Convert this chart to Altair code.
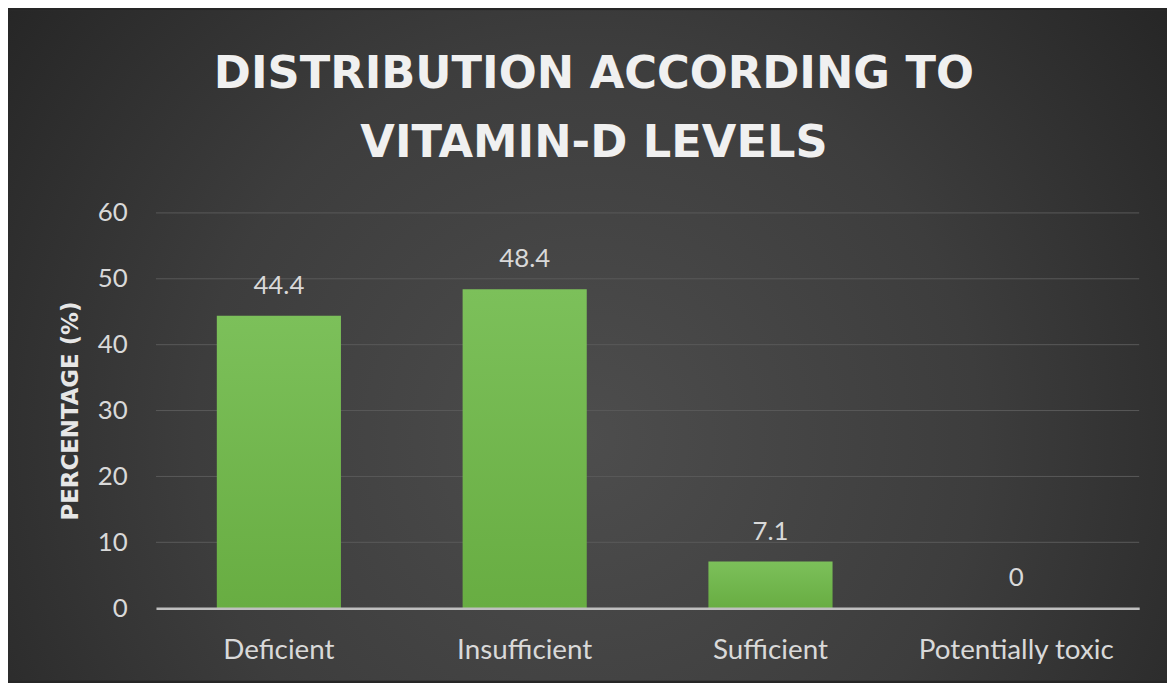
import altair as alt
import pandas as pd

categories = ["Deficient", "Insufficient", "Sufficient", "Potentially toxic"]
percentages = [44.4, 48.4, 7.1, 0]
value_labels = ["44.4", "48.4", "7.1", "0"]
y_ticks = [0, 10, 20, 30, 40, 50, 60]
title_lines = ["DISTRIBUTION ACCORDING TO", "VITAMIN-D LEVELS"]
y_title = "PERCENTAGE (%)"

df = pd.DataFrame({"category": categories, "pct": percentages, "label": value_labels})
grid_df = pd.DataFrame({"tick": y_ticks[1:]})
bg_df = pd.DataFrame({"bg": [0]})

W, H = 990, 398
PAD = {"left": 149, "top": 204, "right": 28, "bottom": 73}
FONT = "Lato"
TITLE_FONT = "DejaVu Sans"

bg_gradient = alt.RadialGradient(
    gradient="radial", x1=0.5, y1=0.58, r1=0, x2=0.5, y2=0.58, r2=0.75,
    stops=[alt.GradientStop(color="#4d4d4d", offset=0),
           alt.GradientStop(color="#3d3d3d", offset=0.45),
           alt.GradientStop(color="#1c1c1c", offset=1)])

bar_gradient = alt.LinearGradient(
    gradient="linear", x1=0, y1=0, x2=0, y2=1,
    stops=[alt.GradientStop(color="#7cc05a", offset=0),
           alt.GradientStop(color="#68ad42", offset=1)])

y_scale = alt.Scale(domain=[0, 60], nice=False)
y_axis = alt.Axis(
    title=y_title, values=y_ticks, domain=False, ticks=False, grid=False,
    labelFont=FONT, labelFontSize=26, labelColor="#d9d9d9", labelPadding=29,
    titleFont=TITLE_FONT, titleFontSize=23, titleFontWeight="bold", titleColor="#e6e6e6",
    titleX=-86, titleY=199, titleAngle=270, titleAlign="center", titleBaseline="middle",
    zindex=1)

x_axis = alt.Axis(
    title=None, labelAngle=0, labelFont=FONT, labelFontSize=28, labelColor="#d9d9d9",
    labelPadding=29, labelLimit=0, ticks=False, domainColor="#bfbfbf", domainWidth=2.5,
    grid=False, zindex=1)
x_scale = alt.Scale(paddingInner=0.495, paddingOuter=0.2475)

background = alt.Chart(bg_df).mark_rect(fill=bg_gradient, strokeWidth=0).encode(
    x=alt.value(-PAD["left"]), x2=alt.value(W + PAD["right"]),
    y=alt.value(-PAD["top"]), y2=alt.value(H + PAD["bottom"]))

grid = alt.Chart(grid_df).mark_rule(color="#5a5a5a", strokeWidth=1).encode(
    y=alt.Y("tick:Q", scale=y_scale, axis=y_axis))

bars = alt.Chart(df).mark_bar(color=bar_gradient).encode(
    x=alt.X("category:N", sort=categories, scale=x_scale, axis=x_axis),
    y=alt.Y("pct:Q", scale=y_scale, axis=y_axis))

labels = alt.Chart(df).mark_text(
    dy=-22, baseline="alphabetic", font=FONT, fontSize=26, color="#d9d9d9").encode(
    x=alt.X("category:N", sort=categories, scale=x_scale, axis=x_axis),
    y=alt.Y("pct:Q", scale=y_scale, axis=y_axis),
    text="label:N")

chart = alt.layer(background, grid, bars, labels).properties(
    width=W, height=H,
    padding=PAD,
    autosize=alt.AutoSizeParams(type="none"),
    background="#262626",
    title=alt.TitleParams(
        text=title_lines, font=TITLE_FONT, fontSize=45, fontWeight="bold", color="#f0f0f0",
        anchor="middle", dx=-54, lineHeight=70, offset=-157),
).configure_view(stroke=None)

chart.save("out.html", embed_options={"renderer": "svg", "actions": False})
